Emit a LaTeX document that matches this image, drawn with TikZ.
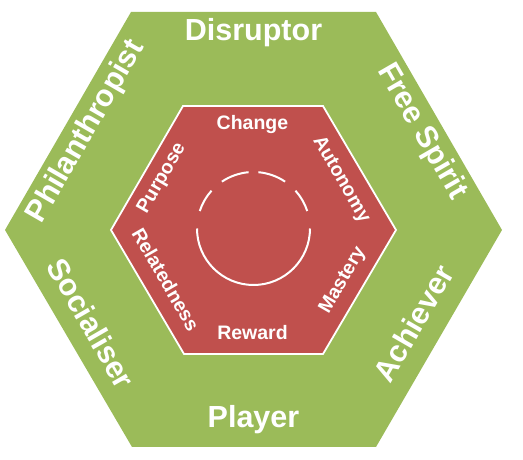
\documentclass[tikz,border=0pt]{standalone}
\usepackage{fontspec}
\setmainfont{Liberation Sans}
\definecolor{hexgreen}{HTML}{9BBB59}
\definecolor{hexred}{HTML}{C0504D}
\begin{document}
\begin{tikzpicture}[x=1pt,y=1pt,
  outerlbl/.style={text=white,font=\bfseries\fontsize{30.5}{30.5}\selectfont,inner sep=0pt,text height=0.716em,text depth=0pt,anchor=center},
  innerlbl/.style={text=white,font=\bfseries\fontsize{19.5}{19.5}\selectfont,inner sep=0pt,text height=0.716em,text depth=0pt,anchor=center},
  ring/.style={white,line width=2pt}]
\useasboundingbox (0,0) rectangle (523,460);
% outer hexagon
\fill[hexgreen] (131,448) -- (376,448) -- (502,230) -- (376,13) -- (132,13) -- (5,230) -- cycle;
% inner hexagon
\filldraw[fill=hexred,draw=white,line width=1.8pt,line join=miter] (183,354) -- (323,354) -- (396,230) -- (323,106) -- (184,106) -- (111,230) -- cycle;
% circle
\coordinate (c) at (253.5,231.5);
\draw[ring] (c) ++(180:56.5) arc[start angle=180,end angle=360,radius=56.5];
\draw[ring] (c) ++(162:56.5) arc[start angle=162,end angle=138,radius=56.5];
\draw[ring] (c) ++(124:56.5) arc[start angle=124,end angle=95,radius=56.5];
\draw[ring] (c) ++(85:56.5) arc[start angle=85,end angle=56,radius=56.5];
\draw[ring] (c) ++(42:56.5) arc[start angle=42,end angle=18,radius=56.5];
% outer labels
\node[outerlbl] (disruptor) at (253.5,423) {Disruptor};
\node[outerlbl] (player) at (253.5,36) {Player};
\node[outerlbl,rotate=60] (philanthropist) at (90,326) {Philanthropist};
\node[outerlbl,rotate=-60] (freespirit) at (418,326) {Free Spirit};
\node[outerlbl,rotate=-60] (socialiser) at (85,133) {Socialiser};
\node[outerlbl,rotate=60] (achiever) at (420,133) {Achiever};
% inner labels
\node[innerlbl] (change) at (252.5,334.5) {Change};
\node[innerlbl] (reward) at (252.5,124.5) {Reward};
\node[innerlbl,rotate=60] (purpose) at (163,281) {Purpose};
\node[innerlbl,rotate=-60] (autonomy) at (340,280) {Autonomy};
\node[innerlbl,rotate=-60] (relatedness) at (163,179) {Relatedness};
\node[innerlbl,rotate=60] (mastery) at (344,179) {Mastery};
\end{tikzpicture}
\end{document}
